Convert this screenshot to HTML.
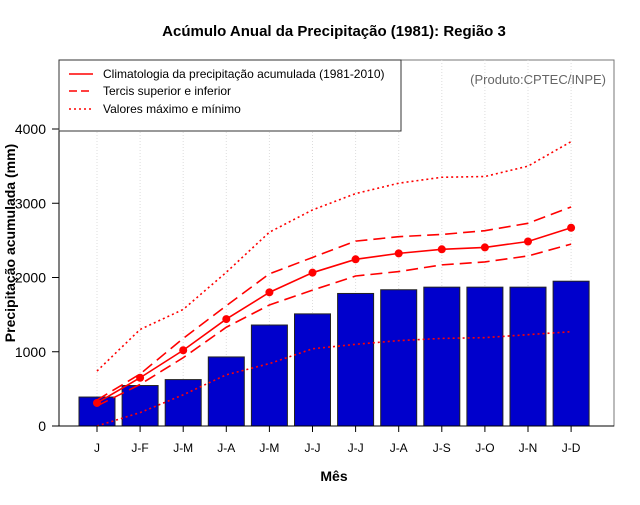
<!DOCTYPE html>
<html><head><meta charset="utf-8"><style>
body{margin:0;background:#fff}
svg text{font-family:"Liberation Sans",sans-serif}
</style></head><body>
<svg id="chart" width="640" height="500" viewBox="0 0 640 500">
<text x="334" y="36" text-anchor="middle" font-size="15" font-weight="bold">Acúmulo Anual da Precipitação (1981): Região 3</text>
<rect x="59" y="60" width="555" height="366" fill="none" stroke="#777" stroke-width="1"/>
<g id="grid"></g>
<g id="bars"></g>
<g id="lines"></g>
<g id="axes"></g>
<line x1="59" y1="426" x2="614" y2="426" stroke="#000"/>
<line x1="59" y1="60" x2="59" y2="426" stroke="#000"/>
<text x="334" y="481" text-anchor="middle" font-size="14" font-weight="bold">Mês</text>
<text transform="translate(15,243) rotate(-90)" text-anchor="middle" font-size="14" font-weight="bold">Precipitação acumulada (mm)</text>
<text x="606" y="84" text-anchor="end" font-size="13" fill="#666">(Produto:CPTEC/INPE)</text>
<g>
<rect x="59" y="60" width="342" height="71" fill="#fff" stroke="#333"/>
<line x1="69" y1="74" x2="93" y2="74" stroke="red" stroke-width="1.5"/>
<text x="103" y="78" font-size="12">Climatologia da precipitação acumulada (1981-2010)</text>
<line x1="69" y1="91" x2="93" y2="91" stroke="red" stroke-width="1.5" stroke-dasharray="8,4"/>
<text x="103" y="95" font-size="12">Tercis superior e inferior</text>
<line x1="69" y1="109" x2="93" y2="109" stroke="red" stroke-width="1.5" stroke-dasharray="2,3"/>
<text x="103" y="113" font-size="12">Valores máximo e mínimo</text>
</g>
</svg>
<script>
const categories=["J","J-F","J-M","J-A","J-M","J-J","J-J","J-A","J-S","J-O","J-N","J-D"];
const observed=[390,545,625,930,1360,1510,1785,1835,1870,1870,1870,1950];
const climatology=[310,650,1020,1440,1800,2065,2245,2325,2380,2405,2485,2670];
const upperTercile=[350,700,1180,1620,2050,2270,2490,2550,2580,2630,2730,2950];
const lowerTercile=[270,560,920,1330,1630,1830,2020,2080,2170,2210,2290,2450];
const maxValues=[740,1300,1570,2070,2610,2910,3130,3270,3350,3360,3500,3830];
const minValues=[0,180,420,690,840,1040,1100,1150,1180,1190,1230,1270];
const yTicks=[0,1000,2000,3000,4000];

const NS="http://www.w3.org/2000/svg";
const xPos=i=>97+i*43.1;
const yPos=v=>426-v*0.07425;
function mk(tag,attrs,parent){const e=document.createElementNS(NS,tag);for(const k in attrs)e.setAttribute(k,attrs[k]);document.getElementById(parent).appendChild(e);return e;}

categories.forEach((c,i)=>{
  const g=mk('line',{x1:xPos(i),x2:xPos(i),y1:60,y2:426,stroke:'#ddd','stroke-dasharray':'1,2'},'grid');
  
  
  const b=mk('rect',{x:xPos(i)-18,y:yPos(observed[i]),width:36,height:426-yPos(observed[i]),fill:'#0000cc',stroke:'#222','stroke-width':1},'bars');
  
  
  const t=mk('line',{x1:xPos(i),x2:xPos(i),y1:426,y2:432,stroke:'#000'},'axes');
  
  
  const l=mk('text',{x:xPos(i),y:452,'text-anchor':'middle','font-size':12},'axes');
  l.textContent=c;
  
  
});
yTicks.forEach(v=>{
  const t=mk('line',{x1:52,x2:59,y1:yPos(v),y2:yPos(v),stroke:'#000'},'axes');
  
  
  const l=mk('text',{x:46,y:yPos(v)+5,'text-anchor':'end','font-size':14},'axes');
  l.textContent=v;
  
  
});
function series(arr,dash,name){
  const p=mk('polyline',{points:arr.map((v,i)=>xPos(i)+','+yPos(v)).join(' '),fill:'none',stroke:'red','stroke-width':1.6,'stroke-dasharray':dash},'lines');
  
  
}
series(maxValues,'2,3','max-line');
series(minValues,'2,3','min-line');
series(upperTercile,'12,6','upper-tercile-line');
series(lowerTercile,'12,6','lower-tercile-line');
series(climatology,'none','climatology-line');
climatology.forEach((v,i)=>{
  const c=mk('circle',{cx:xPos(i),cy:yPos(v),r:4,fill:'red'},'lines');
  
  
});
</script>
</body></html>
